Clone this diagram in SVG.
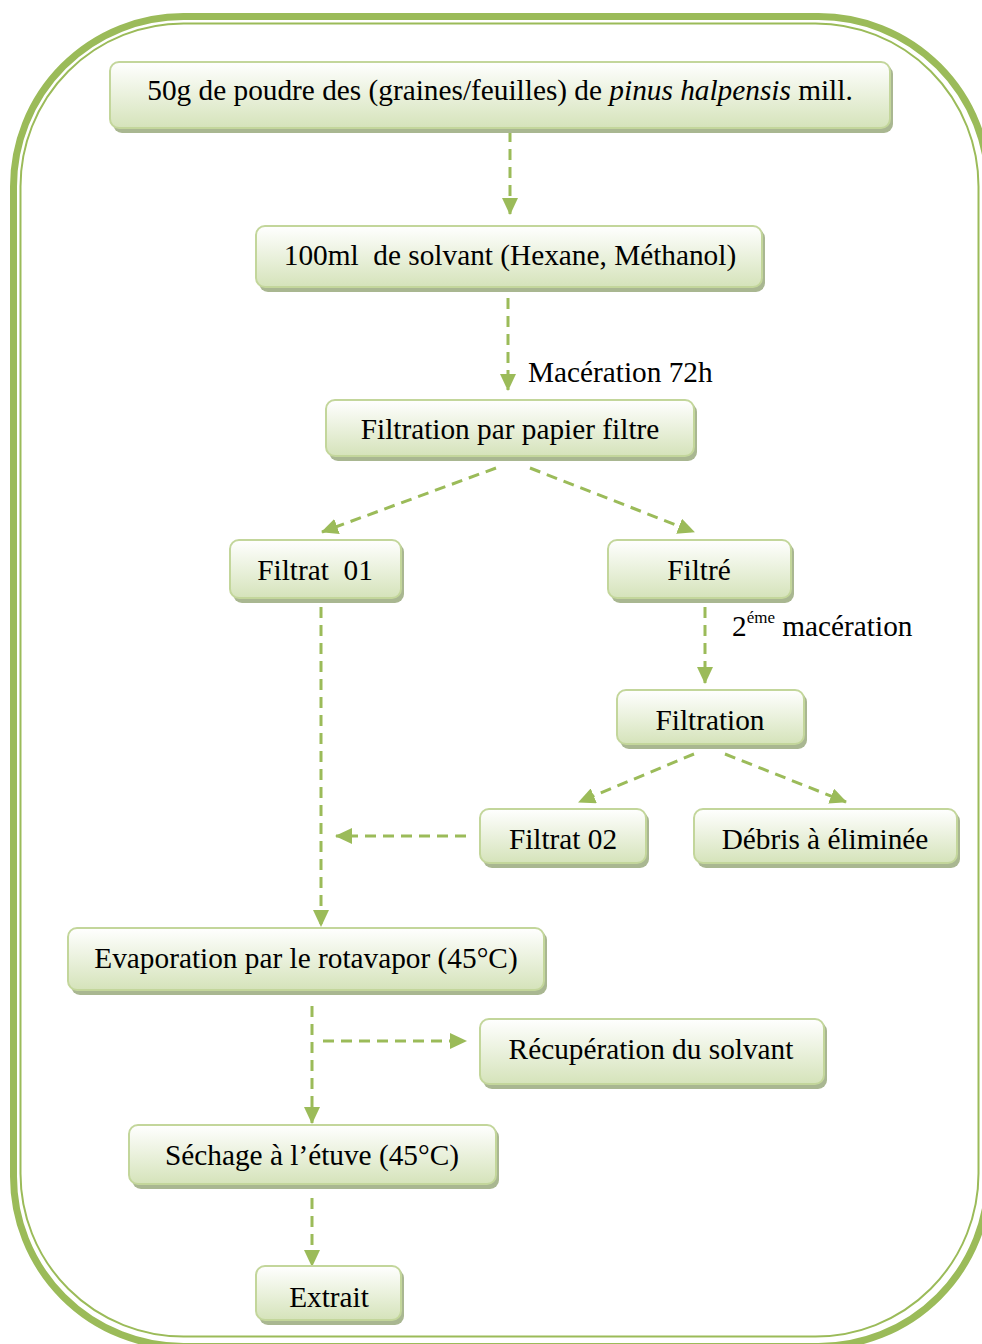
<svg xmlns="http://www.w3.org/2000/svg" width="982" height="1344" viewBox="0 0 982 1344">
<style>
.box{fill:url(#g);stroke:#c3d69b;stroke-width:2}
.sh{fill:#a9b791}
.t{font-family:"Liberation Serif","Times New Roman",serif;font-size:29.3px;fill:#000;text-anchor:middle}
.l{font-family:"Liberation Serif","Times New Roman",serif;font-size:29.3px;fill:#000}
.c{fill:none;stroke:#9bbb59;stroke-width:3;stroke-dasharray:11 7;marker-end:url(#a)}
</style>
<defs>
<linearGradient id="g" x1="0" y1="0" x2="0" y2="1">
<stop offset="0" stop-color="#ffffff"/>
<stop offset="1" stop-color="#d5e3ba"/>
</linearGradient>
<marker id="a" markerUnits="userSpaceOnUse" markerWidth="18" markerHeight="16" refX="16" refY="8" orient="auto">
<path d="M0,0 L17,8 L0,16 Z" fill="#9bbb59"/>
</marker>
</defs>
<rect width="982" height="1344" fill="#fff"/>
<g id="frame" fill="none" stroke="#9bbb59">
<rect x="13.5" y="16.5" width="975" height="1330" rx="170" ry="170" stroke-width="7"/>
<rect x="20.5" y="23.5" width="958" height="1313" rx="163" ry="163" stroke-width="2"/>
</g>
<g id="connectors">
<path class="c" d="M510,131 V214"/>
<path class="c" d="M508,298 V390"/>
<path class="c" d="M496,468 L322,532"/>
<path class="c" d="M530,468 L694,532"/>
<path class="c" d="M705,607 V683"/>
<path class="c" d="M321,607 V926"/>
<path class="c" d="M466,836 H336"/>
<path class="c" d="M694,754 L579,802"/>
<path class="c" d="M725,754 L846,802"/>
<path class="c" d="M312,1006 V1123"/>
<path class="c" d="M323,1041 H466"/>
<path class="c" d="M312,1198 V1266"/>
<text class="l" x="528" y="382">Macération 72h</text>
<text class="l" x="732" y="636">2<tspan font-size="17" dy="-13">éme</tspan><tspan dy="13"> macération</tspan></text>
</g>
<g id="n1"><rect class="sh" x="113" y="65" width="780" height="68" rx="9"/><rect class="box" x="110" y="62" width="780" height="66" rx="9"/><text class="t" x="500" y="100">50g de poudre des (graines/feuilles) de <tspan font-style="italic">pinus halpensis</tspan> mill.</text></g>
<g id="n2"><rect class="sh" x="259" y="229" width="506" height="63" rx="9"/><rect class="box" x="256" y="226" width="506" height="61" rx="9"/><text class="t" x="510" y="265" xml:space="preserve">100ml  de solvant (Hexane, Méthanol)</text></g>
<g id="n3"><rect class="sh" x="329" y="403" width="368" height="58" rx="9"/><rect class="box" x="326" y="400" width="368" height="56" rx="9"/><text class="t" x="510" y="439">Filtration par papier filtre</text></g>
<g id="n4"><rect class="sh" x="233" y="543" width="171" height="60" rx="9"/><rect class="box" x="230" y="540" width="171" height="58" rx="9"/><text class="t" x="315" y="580" xml:space="preserve">Filtrat  01</text></g>
<g id="n5"><rect class="sh" x="611" y="543" width="183" height="60" rx="9"/><rect class="box" x="608" y="540" width="183" height="58" rx="9"/><text class="t" x="699" y="580">Filtré</text></g>
<g id="n6"><rect class="sh" x="620" y="693" width="187" height="56" rx="9"/><rect class="box" x="617" y="690" width="187" height="54" rx="9"/><text class="t" x="710" y="730">Filtration</text></g>
<g id="n7"><rect class="sh" x="483" y="812" width="166" height="56" rx="9"/><rect class="box" x="480" y="809" width="166" height="54" rx="9"/><text class="t" x="563" y="849">Filtrat 02</text></g>
<g id="n8"><rect class="sh" x="697" y="812" width="263" height="56" rx="9"/><rect class="box" x="694" y="809" width="263" height="54" rx="9"/><text class="t" x="825" y="849">Débris à éliminée</text></g>
<g id="n9"><rect class="sh" x="71" y="931" width="476" height="64" rx="9"/><rect class="box" x="68" y="928" width="476" height="62" rx="9"/><text class="t" x="306" y="968">Evaporation par le rotavapor (45°C)</text></g>
<g id="n10"><rect class="sh" x="483" y="1022" width="344" height="67" rx="9"/><rect class="box" x="480" y="1019" width="344" height="65" rx="9"/><text class="t" x="651" y="1059">Récupération du solvant</text></g>
<g id="n11"><rect class="sh" x="132" y="1128" width="367" height="61" rx="9"/><rect class="box" x="129" y="1125" width="367" height="59" rx="9"/><text class="t" x="312" y="1165">Séchage à l’étuve (45°C)</text></g>
<g id="n12"><rect class="sh" x="259" y="1269" width="145" height="56" rx="9"/><rect class="box" x="256" y="1266" width="145" height="54" rx="9"/><text class="t" x="329" y="1307">Extrait</text></g>
</svg>
